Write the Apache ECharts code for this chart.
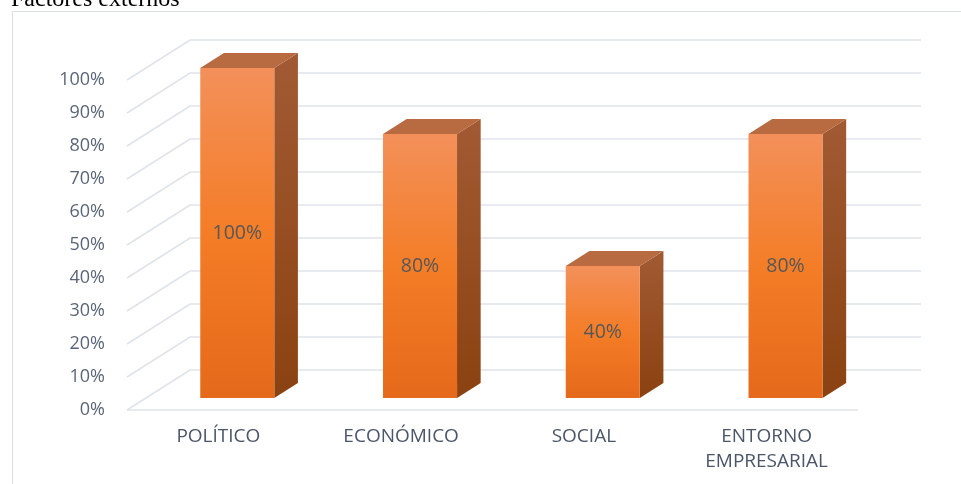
<!DOCTYPE html>
<html>
<head>
<meta charset="utf-8">
<script src="https://cdn.jsdelivr.net/npm/echarts@6/dist/echarts.min.js"></script>
<style>
  html, body { margin: 0; padding: 0; background: #ffffff; }
  #chart { width: 961px; height: 484px; }
</style>
</head>
<body>
<div id="chart"></div>
<script>
// Factores externos: share per factor
const categories = ['POLÍTICO', 'ECONÓMICO', 'SOCIAL', 'ENTORNO\nEMPRESARIAL'];
const values = [100, 80, 40, 80];
const yTicks = [0, 10, 20, 30, 40, 50, 60, 70, 80, 90, 100];

// pseudo-3D depth: pixel shift for the full depth of the plot box
const DEPTH_X = 63, DEPTH_Y = -40;
const BAR_FRONT = 0.3, BAR_BACK = 0.675, BAR_RATIO = 0.405;

const chart = echarts.init(document.getElementById('chart'), null, { renderer: 'canvas' });

function renderWall(params, api) {
  const cs = params.coordSys;
  const y = api.coord([0, api.value(1)])[1];
  const x0 = cs.x, x1 = cs.x + cs.width;
  const style = { stroke: '#dfe3ea', lineWidth: 1.6, fill: null };
  const children = [{
    type: 'polyline',
    shape: { points: [[x0, y], [x0 + DEPTH_X, y + DEPTH_Y], [x1 + DEPTH_X, y + DEPTH_Y]] },
    style: style
  }];
  if (api.value(1) === 0) {
    children.push({ type: 'line', shape: { x1: x0, y1: y, x2: x1, y2: y }, style: style });
  }
  return { type: 'group', children: children };
}

function renderBar(params, api) {
  const idx = api.value(0), v = api.value(1);
  const base = api.coord([idx, 0]);
  const top = api.coord([idx, v]);
  const w = api.size([1, 0])[0] * BAR_RATIO;
  const cx = base[0] + DEPTH_X * BAR_FRONT;
  const left = cx - w / 2, right = cx + w / 2;
  const yb = base[1] + DEPTH_Y * BAR_FRONT;
  const yt = top[1] + DEPTH_Y * BAR_FRONT;
  const bdx = DEPTH_X * (BAR_BACK - BAR_FRONT), bdy = DEPTH_Y * (BAR_BACK - BAR_FRONT);
  return {
    type: 'group',
    children: [
      {
        type: 'polygon',
        shape: { points: [[right, yt], [right + bdx, yt + bdy], [right + bdx, yb + bdy], [right, yb]] },
        style: { fill: new echarts.graphic.LinearGradient(0, 0, 0, 1, [
          { offset: 0, color: '#a15a33' }, { offset: 1, color: '#8b4211' }
        ]) }
      },
      {
        type: 'polygon',
        shape: { points: [[left, yt], [left + bdx, yt + bdy], [right + bdx, yt + bdy], [right, yt]] },
        style: { fill: '#b86a40' }
      },
      {
        type: 'rect',
        shape: { x: left, y: yt, width: w, height: yb - yt },
        style: { fill: new echarts.graphic.LinearGradient(0, 0, 0, 1, [
          { offset: 0, color: '#f3905a' }, { offset: 0.5, color: '#f47d27' }, { offset: 1, color: '#e5691a' }
        ]) }
      },
      {
        type: 'text',
        x: cx, y: (yt + yb) / 2,
        style: {
          text: v + '%', fill: '#575757', fontSize: 19.5, fontFamily: 'Open Sans',
          align: 'center', verticalAlign: 'middle'
        }
      }
    ]
  };
}

chart.setOption({
  animation: false,
  backgroundColor: '#ffffff',
  grid: { left: 127, top: 80, width: 731, height: 330 },
  xAxis: {
    type: 'category',
    data: categories,
    axisLine: { show: false },
    axisTick: { show: false },
    splitLine: { show: false },
    axisLabel: {
      color: '#4b5669', fontSize: 19, fontFamily: 'Open Sans',
      lineHeight: 25, margin: 14, interval: 0
    }
  },
  yAxis: {
    type: 'value',
    min: 0, max: 100, interval: 10,
    axisLine: { show: false },
    axisTick: { show: false },
    splitLine: { show: false },
    axisLabel: {
      formatter: '{value}%', color: '#5a6678', fontSize: 18, fontFamily: 'Open Sans', margin: 22
    }
  },
  graphic: [
    { type: 'line', shape: { x1: 12.5, y1: 11.5, x2: 961, y2: 11.5 }, style: { stroke: '#dadee6', lineWidth: 1 } },
    { type: 'line', shape: { x1: 12.5, y1: 11.5, x2: 12.5, y2: 484 }, style: { stroke: '#dadee6', lineWidth: 1 } },
    {
      type: 'text', left: 11, top: -12,
      style: { text: 'Factores externos', fill: '#000000', fontSize: 24, fontFamily: 'Liberation Serif' }
    }
  ],
  series: [
    {
      type: 'custom',
      renderItem: renderWall,
      data: yTicks.map(t => [0, t]),
      encode: { x: 0, y: 1 },
      silent: true,
      z: 1
    },
    {
      type: 'custom',
      renderItem: renderBar,
      data: values.map((v, i) => [i, v]),
      encode: { x: 0, y: 1 },
      z: 2
    }
  ]
});
</script>
</body>
</html>
